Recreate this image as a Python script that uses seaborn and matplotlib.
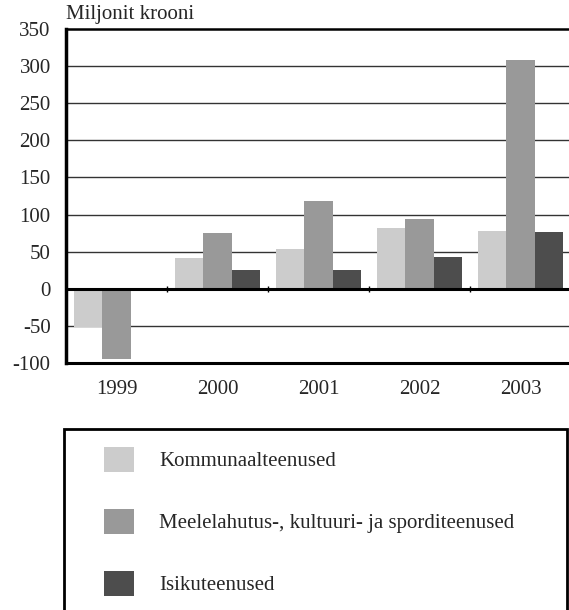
import numpy as np
import pandas as pd
import matplotlib
matplotlib.use("Agg")
import matplotlib.pyplot as plt
import matplotlib.patches as mpatches
import seaborn as sns

# Data
years = ["1999", "2000", "2001", "2002", "2003"]
series = ["Kommunaalteenused",
          "Meelelahutus-, kultuuri- ja sporditeenused",
          "Isikuteenused"]
kommunaal = [-51, 41, 54, 82, 78]
meelelahutus = [-95, 75, 118, 94, 308]
isiku = [0, 25, 25, 43, 77]
colors = ["#cccccc", "#999999", "#4d4d4d"]
yticks = [-100, -50, 0, 50, 100, 150, 200, 250, 300, 350]

rows = []
for name, vals in zip(series, [kommunaal, meelelahutus, isiku]):
    for y, v in zip(years, vals):
        rows.append({"aasta": y, "seeria": name, "väärtus": v})
df = pd.DataFrame(rows)

sns.set_style("white")
plt.rcParams["font.family"] = ["Liberation Serif", "DejaVu Serif"]

fig = plt.figure(figsize=(5.69, 6.10), dpi=100)
ax = fig.add_axes([66 / 569, 1 - 363 / 610, 505 / 569, 334 / 610])

sns.barplot(data=df, x="aasta", y="väärtus", hue="seeria", palette=colors,
            width=0.84, saturation=1, errorbar=None, ax=ax, legend=True,
            linewidth=0, edgecolor="none", zorder=3)
handles, labels = ax.get_legend_handles_labels()
ax.get_legend().remove()

ax.set_xlim(-0.5, len(years) - 0.5)
ax.set_ylim(-100, 350)
ax.set_yticks(yticks)
ax.set_yticklabels([str(t) for t in yticks])
ax.set_xlabel("")
ax.set_ylabel("")
ax.tick_params(axis="y", length=0, pad=11, labelsize=15)
ax.tick_params(axis="x", length=0, pad=12, labelsize=15)

for t in yticks[1:-1]:
    if t != 0:
        ax.axhline(t, color="#333333", lw=1, zorder=1)
ax.axhline(0, color="black", lw=2.2, zorder=4)
ax.vlines(np.arange(len(years) - 1) + 0.5, -4, 4, color="black", lw=1, zorder=4)

for side in ["left", "bottom", "top"]:
    ax.spines[side].set_color("black")
ax.spines["left"].set_linewidth(2.5)
ax.spines["bottom"].set_linewidth(2.2)
ax.spines["top"].set_linewidth(1.8)
ax.spines["right"].set_visible(False)

fig.text(66 / 569, 1 - 15 / 610, "Miljonit krooni", fontsize=15,
         ha="left", va="center")

# legend box below the chart
box = mpatches.Rectangle((64 / 569, -0.05), (567 - 64) / 569, 0.05 + (610 - 429) / 610,
                         transform=fig.transFigure, fill=False,
                         edgecolor="black", lw=2)
fig.patches.append(box)
fig.legend(handles, labels, loc="upper left",
           bbox_to_anchor=(104 / 569, 1 - 447 / 610),
           frameon=False, fontsize=15, borderpad=0, borderaxespad=0,
           handlelength=1.44, handleheight=1.44, handletextpad=1.2,
           labelspacing=1.8)

fig.savefig("out.png", dpi=100)
